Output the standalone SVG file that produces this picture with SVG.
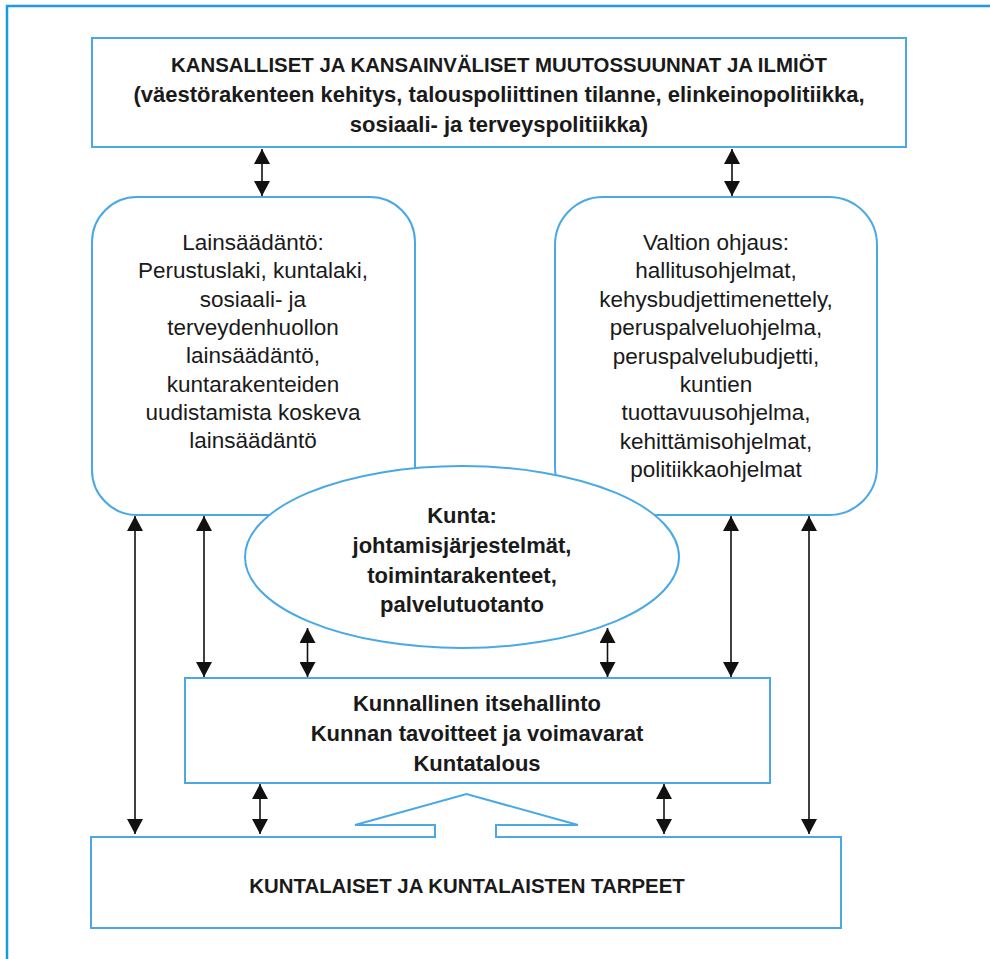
<svg xmlns="http://www.w3.org/2000/svg" width="990" height="959" viewBox="0 0 990 959">
<defs>
<style>
.box{fill:#fff;stroke:#4aa9e4;stroke-width:2}
.frame{fill:none;stroke:#1d9be2;stroke-width:2.5}
.t{font-family:"Liberation Sans",Arial,sans-serif;fill:#1a1a1a;text-anchor:middle}
.b{font-weight:bold}
.cap{font-size:20.4px}
.mb{font-size:22px}
.r{font-size:22.5px}
.arr{stroke:#111;stroke-width:1.6;fill:none;marker-start:url(#ah);marker-end:url(#ah)}
</style>
<marker id="ah" viewBox="0 0 15 16" refX="15" refY="8" markerWidth="15" markerHeight="16" markerUnits="userSpaceOnUse" orient="auto-start-reverse">
<path d="M0,0 L15,8 L0,16 z" fill="#111"/>
</marker>
</defs>
<rect width="990" height="959" fill="#fff"/>
<path class="frame" d="M7,959 V6 H990"/>

<g id="top">
<rect class="box" x="92" y="38" width="814" height="109"/>
<text class="t b cap" x="499" y="72">KANSALLISET JA KANSAINVÄLISET MUUTOSSUUNNAT JA ILMIÖT</text>
<text class="t b mb" x="499" y="102" font-size="22.5">(väestörakenteen kehitys, talouspoliittinen tilanne, elinkeinopolitiikka,</text>
<text class="t b mb" x="499" y="132" font-size="22.5">sosiaali- ja terveyspolitiikka)</text>
</g>

<g id="lainsaadanto">
<rect class="box" x="92" y="197" width="323" height="318" rx="45" ry="45"/>
<text class="t r" x="253" y="250">Lainsäädäntö:</text>
<text class="t r" x="253" y="278.3">Perustuslaki, kuntalaki,</text>
<text class="t r" x="253" y="306.6">sosiaali- ja</text>
<text class="t r" x="253" y="334.9">terveydenhuollon</text>
<text class="t r" x="253" y="363.2">lainsäädäntö,</text>
<text class="t r" x="253" y="391.5">kuntarakenteiden</text>
<text class="t r" x="253" y="419.8">uudistamista koskeva</text>
<text class="t r" x="253" y="448.1">lainsäädäntö</text>
</g>

<g id="valtio">
<rect class="box" x="555" y="197" width="322" height="318" rx="48" ry="48"/>
<text class="t r" x="716" y="250">Valtion ohjaus:</text>
<text class="t r" x="716" y="278.4">hallitusohjelmat,</text>
<text class="t r" x="716" y="306.8">kehysbudjettimenettely,</text>
<text class="t r" x="716" y="335.2">peruspalveluohjelma,</text>
<text class="t r" x="716" y="363.6">peruspalvelubudjetti,</text>
<text class="t r" x="716" y="392">kuntien</text>
<text class="t r" x="716" y="420.4">tuottavuusohjelma,</text>
<text class="t r" x="716" y="448.8">kehittämisohjelmat,</text>
<text class="t r" x="716" y="477.2">politiikkaohjelmat</text>
</g>

<g id="kunta">
<ellipse class="box" cx="462" cy="557" rx="217" ry="91"/>
<text class="t b mb" x="462" y="523">Kunta:</text>
<text class="t b mb" x="462" y="553">johtamisjärjestelmät,</text>
<text class="t b mb" x="462" y="583">toimintarakenteet,</text>
<text class="t b mb" x="462" y="612">palvelutuotanto</text>
</g>

<g id="itsehallinto">
<rect class="box" x="185" y="678" width="585" height="105"/>
<text class="t b mb" x="477" y="711">Kunnallinen itsehallinto</text>
<text class="t b mb" x="477" y="741">Kunnan tavoitteet ja voimavarat</text>
<text class="t b mb" x="477" y="771">Kuntatalous</text>
</g>

<g id="kuntalaiset">
<rect class="box" x="91" y="837" width="750" height="91"/>
<rect x="436" y="834" width="59" height="5" fill="#fff"/>
<path d="M435,837 V825 H355 L466.5,794 L578,825 H496 V837" fill="none" stroke="#4aa9e4" stroke-width="2"/>
<text class="t b cap" x="467" y="893">KUNTALAISET JA KUNTALAISTEN TARPEET</text>
</g>

<g id="connectors">
<line class="arr" x1="262" y1="149" x2="262" y2="196"/>
<line class="arr" x1="732" y1="149" x2="732" y2="196"/>
<line class="arr" x1="135" y1="516" x2="135" y2="834"/>
<line class="arr" x1="204" y1="516" x2="204" y2="677"/>
<line class="arr" x1="307.5" y1="628" x2="307.5" y2="677"/>
<line class="arr" x1="607.5" y1="628" x2="607.5" y2="677"/>
<line class="arr" x1="731" y1="516" x2="731" y2="677"/>
<line class="arr" x1="809" y1="516" x2="809" y2="834"/>
<line class="arr" x1="260" y1="784" x2="260" y2="834"/>
<line class="arr" x1="664" y1="784" x2="664" y2="834"/>
</g>
</svg>
